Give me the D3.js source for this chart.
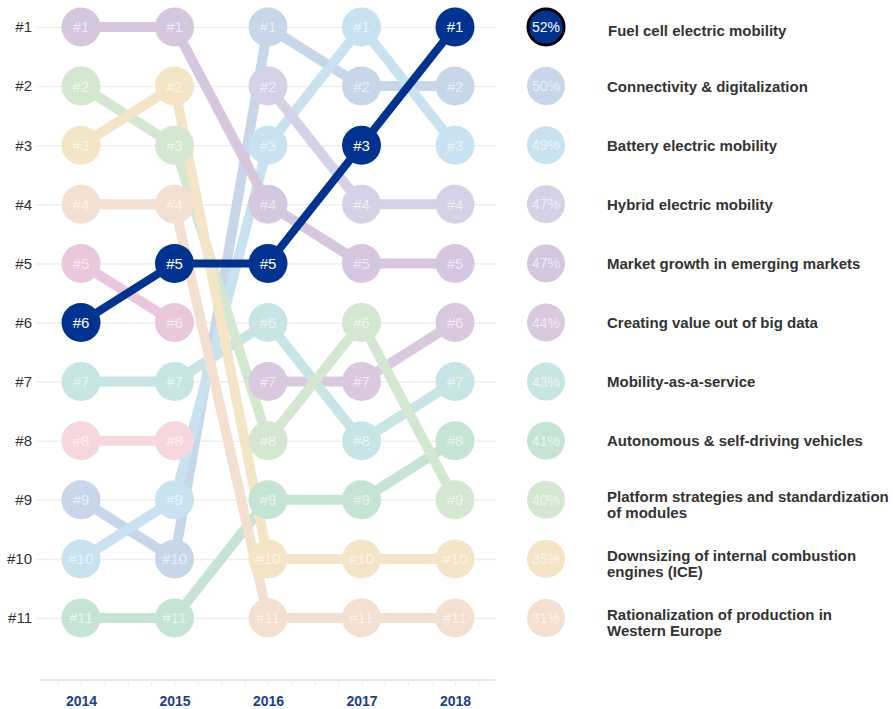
<!DOCTYPE html>
<html>
<head>
<meta charset="utf-8">
<script src="https://cdn.jsdelivr.net/npm/d3@7"></script>
<style>
  body { margin: 0; background: #fff; }
  svg { font-family: "Liberation Sans", Arial, sans-serif; display: block; }
</style>
</head>
<body>
<div id="chart"></div>
<script>
// years and ranks (2014 -> 2018), legend order = 2018 ranking
var years = [2014, 2015, 2016, 2017, 2018];
var trends = [
  ["Fuel cell electric mobility"],
  ["Connectivity & digitalization"],
  ["Battery electric mobility"],
  ["Hybrid electric mobility"],
  ["Market growth in emerging markets"],
  ["Creating value out of big data"],
  ["Mobility-as-a-service"],
  ["Autonomous & self-driving vehicles"],
  ["Platform strategies and standardization", "of modules"],
  ["Downsizing of internal combustion", "engines (ICE)"],
  ["Rationalization of production in", "Western Europe"]
];
var shares = [52, 50, 49, 47, 47, 44, 43, 41, 40, 35, 31];
var ranks = [
  [6, 5, 5, 3, 1],
  [9, 10, 1, 2, 2],
  [10, 9, 3, 1, 3],
  [null, null, 2, 4, 4],
  [1, 1, 4, 5, 5],
  [null, null, 7, 7, 6],
  [7, 7, 6, 8, 7],
  [11, 11, 9, 9, 8],
  [2, 3, 8, 6, 9],
  [3, 2, 10, 10, 10],
  [4, 4, 11, 11, 11]
];
// trends that dropped out of the ranking after 2015
var droppedRanks = [
  [5, 6, null, null, null],
  [8, 8, null, null, null]
];
var colors = ["#00338f", "#c7d6e8", "#c8e2ef", "#d5d1e6", "#d5c7dd", "#d9c9de",
              "#c7e5e4", "#c6e4d3", "#d4e7d0", "#f3e5c5", "#f4e0d1"];
var droppedColors = ["#e9c8de", "#f6d7de"];
var rankTicks = d3.range(1, 12);

var svgWidth = 893;
var svgHeight = 709;

var svg = d3.select("#chart")
  .append("svg")
  .attr("width", svgWidth)
  .attr("height", svgHeight);

var x = d3.scaleLinear().domain([2014, 2018]).range([81, 455]);
var y = d3.scaleLinear().domain([1, 11]).range([27, 618]);

// grid / y axis
var yAxis = svg.append("g")
  .attr("transform", "translate(36,0)")
  .call(d3.axisLeft(y).tickValues(rankTicks).tickFormat(d => "#" + d).tickSize(-460).tickPadding(4));
yAxis.select(".domain").remove();
yAxis.selectAll(".tick line").attr("stroke", "#eeeeee").attr("stroke-width", 1.5);
yAxis.selectAll(".tick text").attr("fill", "#333").attr("font-size", 15);

// x axis with quarter ticks
var quarterTicks = d3.range(2013.75, 2018.3, 0.25);
var xAxis = svg.append("g")
  .attr("transform", "translate(0,680)")
  .call(d3.axisBottom(x).tickValues(quarterTicks).tickSize(6).tickPadding(10)
    .tickFormat(d => Number.isInteger(d) ? d : ""));
xAxis.select(".domain").attr("d", "M40,0H495").attr("stroke", "#e8e8e8").attr("stroke-width", 2);
xAxis.selectAll(".tick line").attr("stroke", "#eeeeee");
xAxis.selectAll(".tick text")
  .attr("fill", "#1b3f91")
  .attr("font-size", 14)
  .attr("font-weight", "bold");

// build series
var series = [];
droppedRanks.forEach((r, i) => series.push({ ranks: r, color: droppedColors[i], dark: false }));
ranks.forEach((r, i) => series.push({ ranks: r, color: colors[i], dark: i === 0 }));
// highlighted series drawn last
series.sort((a, b) => a.dark - b.dark);

var line = d3.line()
  .defined(d => d.rank != null)
  .x(d => x(d.year))
  .y(d => y(d.rank));

function points(s) {
  return years.map((yr, j) => ({ year: yr, rank: s.ranks[j] }));
}

var lineGroup = svg.append("g");
lineGroup.selectAll("path")
  .data(series)
  .enter()
  .append("path")
  .attr("d", s => line(points(s)))
  .attr("fill", "none")
  .attr("stroke", s => s.color)
  .attr("stroke-width", s => s.dark ? 8 : 10)
  .attr("stroke-linejoin", "round");

var dotGroup = svg.append("g");
series.forEach(function(s) {
  var g = dotGroup.append("g");
  var pts = points(s).filter(d => d.rank != null);
  g.selectAll("circle")
    .data(pts)
    .enter()
    .append("circle")
    .attr("cx", d => x(d.year))
    .attr("cy", d => y(d.rank))
    .attr("r", 19.5)
    .attr("fill", s.color);
  g.selectAll("text")
    .data(pts)
    .enter()
    .append("text")
    .attr("x", d => x(d.year))
    .attr("y", d => y(d.rank))
    .attr("dy", "0.36em")
    .attr("text-anchor", "middle")
    .attr("font-size", 15)
    .attr("fill", "#fff")
    .attr("fill-opacity", s.dark ? 1 : 0.6)
    .text(d => "#" + d.rank);
});

// legend
var legend = svg.append("g");
trends.forEach(function(lines, i) {
  var cy = y(i + 1);
  var dark = i === 0;
  legend.append("circle")
    .attr("cx", 546)
    .attr("cy", cy)
    .attr("r", dark ? 18 : 19)
    .attr("fill", colors[i])
    .attr("stroke", dark ? "#000" : "none")
    .attr("stroke-width", 3);
  legend.append("text")
    .attr("x", 546)
    .attr("y", cy)
    .attr("dy", "0.36em")
    .attr("text-anchor", "middle")
    .attr("font-size", 14)
    .attr("fill", "#fff")
    .attr("fill-opacity", dark ? 1 : 0.6)
    .text(shares[i] + "%");
  var label = legend.append("text")
    .attr("y", lines.length > 1 ? cy - 3 : (dark ? cy + 4 : cy))
    .attr("font-size", 15)
    .attr("font-weight", "bold")
    .attr("fill", "#333");
  lines.forEach(function(t, k) {
    label.append("tspan")
      .attr("x", dark ? 608 : 607)
      .attr("dy", k === 0 ? "0.36em" : 16)
      .text(t);
  });
});
</script>
</body>
</html>
